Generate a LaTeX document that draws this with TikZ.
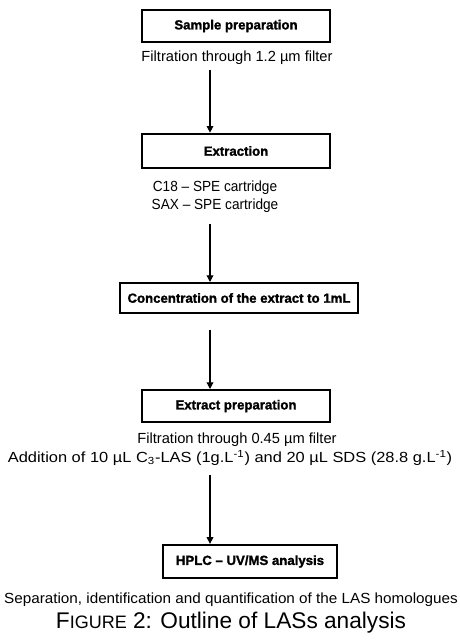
\documentclass[tikz,border=0pt]{standalone}
\usepackage{fontspec}
\setmainfont{Liberation Sans}[BoldFeatures={FakeBold=1.5}]
\usetikzlibrary{arrows.meta}
\begin{document}
\begin{tikzpicture}[x=0.75pt,y=-0.75pt,
  stage/.style={draw, line width=1.5pt, font=\bfseries\fontsize{9.9}{12}\selectfont, minimum height=24pt, inner sep=0pt},
  note/.style={font=\fontsize{11}{13}\selectfont, inner sep=0pt},
  flow/.style={-{Triangle[width=5pt,length=5pt]}, line width=0.9pt}]
\useasboundingbox (0,0) rectangle (460,643);
\node[stage, minimum width=141pt] (s1) at (236,26) {Sample preparation};
\node[note] (t1) at (237,58) {Filtration through 1.2 µm filter};
\node[stage, minimum width=141pt, minimum height=26pt] (s2) at (236,151) {Extraction};
\node[note] (t2a) at (215,188) {\scalebox{0.93}[1]{C18 -- SPE cartridge}};
\node[note] (t2b) at (215,206) {\scalebox{0.93}[1]{SAX -- SPE cartridge}};
\node[stage, minimum width=178pt, minimum height=22.5pt] (s3) at (239,298) {Concentration of the extract to 1mL};
\node[stage, minimum width=141pt] (s4) at (236,406) {Extract preparation};
\node[note] (t4a) at (237,440) {Filtration through 0.45 µm filter};
\node[note] (t4b) at (230,458) {\scalebox{1.12}[1]{Addition of 10 µL C\textsubscript{3}-LAS (1g.L\textsuperscript{-1}) and 20 µL SDS (28.8 g.L\textsuperscript{-1})}};
\node[stage, minimum width=131pt, minimum height=25pt] (s5) at (250,561.5) {HPLC -- UV/MS analysis};
\node[note] (t5) at (231,600) {\scalebox{1.04}[1]{Separation, identification and quantification of the LAS homologues}};
\node[inner sep=0pt, font=\fontsize{17}{19}\selectfont] (cap) at (231,623) {F{\fontsize{13.5}{15}\selectfont IGURE} 2: Outline of LASs analysis};
\coordinate (a1s) at (210,70);
\draw[flow] (a1s) -- (a1s |- s2.north);
\coordinate (a2s) at (210,224);
\draw[flow] (a2s) -- (a2s |- s3.north);
\coordinate (a3s) at (210,330);
\draw[flow] (a3s) -- (a3s |- s4.north);
\coordinate (a4s) at (210,475);
\draw[flow] (a4s) -- (a4s |- s5.north);
\end{tikzpicture}
\end{document}
